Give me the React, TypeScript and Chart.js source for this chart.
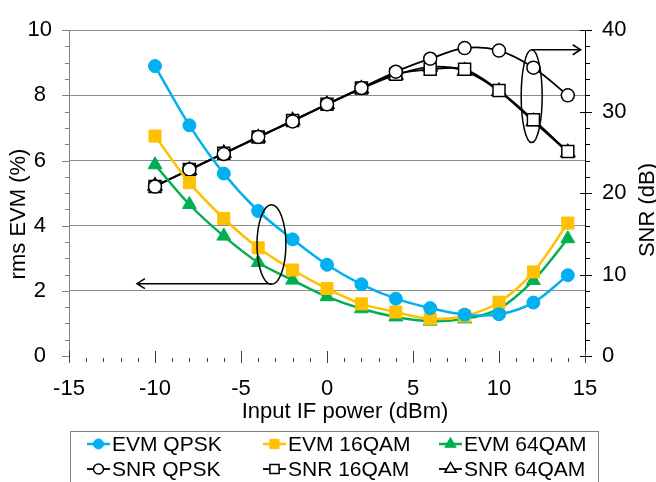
import React, { useEffect, useRef } from 'react';
import { Chart, registerables } from 'chart.js';
import { drawPoint } from 'chart.js/helpers';

Chart.register(...registerables);

// ---------- data ----------
const INPUT_POWER = [-10, -8, -6, -4, -2, 0, 2, 4, 6, 8, 10, 12, 14];

const EVM_QPSK = [8.9, 7.08, 5.6, 4.45, 3.58, 2.8, 2.2, 1.76, 1.47, 1.27, 1.28, 1.64, 2.48];
const EVM_16QAM = [6.75, 5.32, 4.22, 3.32, 2.64, 2.07, 1.6, 1.35, 1.14, 1.23, 1.65, 2.58, 4.08];
const EVM_64QAM = [5.87, 4.65, 3.68, 2.87, 2.33, 1.82, 1.45, 1.2, 1.07, 1.14, 1.45, 2.32, 3.6];

const SNR_QPSK = [20.8, 22.9, 24.8, 26.9, 28.8, 30.9, 32.9, 34.9, 36.5, 37.8, 37.5, 35.4, 32.0];
const SNR_16QAM = [20.8, 22.9, 24.9, 26.9, 28.9, 30.9, 32.9, 34.6, 35.2, 35.2, 32.6, 29.0, 25.1];
const SNR_64QAM = [20.9, 22.8, 24.9, 26.8, 28.9, 30.9, 32.8, 34.5, 35.5, 35.0, 32.5, 28.8, 25.0];

const X_MIN = -15;
const X_MAX = 15;
const X_STEP = 5;
const EVM_MIN = 0;
const EVM_MAX = 10;
const EVM_STEP = 2;
const SNR_MIN = 0;
const SNR_MAX = 40;
const SNR_STEP = 10;

const X_TITLE = 'Input IF power (dBm)';
const Y_TITLE = 'rms EVM (%)';
const Y2_TITLE = 'SNR (dB)';

// annotation (ellipse + arrow) anchors in data units
const SNR_ELLIPSE = { x: 11.9, y: 31.9, rx: 0.61, ry: 5.7 };
const SNR_ARROW = { x0: 11.9, x1: 14.75, y: 37.6 };
const EVM_ELLIPSE = { x: -3.23, y: 3.42, rx: 0.84, ry: 1.22 };
const EVM_ARROW = { x0: -3.23, x1: -11.05, y: 2.22 };

const FONT = '"Liberation Sans", Arial, sans-serif';

const pts = (ys: number[]) => INPUT_POWER.map((x, i) => ({ x, y: ys[i] }));

function drawArrow(ctx: CanvasRenderingContext2D, x0: number, x1: number, y: number) {
  const dir = x1 > x0 ? 1 : -1;
  ctx.beginPath();
  ctx.moveTo(x0, y);
  ctx.lineTo(x1, y);
  ctx.moveTo(x1 - dir * 8, y - 5);
  ctx.lineTo(x1, y);
  ctx.lineTo(x1 - dir * 8, y + 5);
  ctx.stroke();
}

const decorPlugin = {
  id: 'decor',
  afterDatasetsDraw(chart: any) {
    const ctx: CanvasRenderingContext2D = chart.ctx;
    const xs = chart.scales.x;
    const yl = chart.scales.y;
    const yr = chart.scales.y2;
    ctx.save();
    ctx.strokeStyle = '#000';
    ctx.lineWidth = 1.5;
    // right ellipse + arrow
    ctx.beginPath();
    ctx.ellipse(
      xs.getPixelForValue(SNR_ELLIPSE.x),
      yr.getPixelForValue(SNR_ELLIPSE.y),
      Math.abs(xs.getPixelForValue(SNR_ELLIPSE.x + SNR_ELLIPSE.rx) - xs.getPixelForValue(SNR_ELLIPSE.x)),
      Math.abs(yr.getPixelForValue(SNR_ELLIPSE.y + SNR_ELLIPSE.ry) - yr.getPixelForValue(SNR_ELLIPSE.y)),
      0, 0, Math.PI * 2
    );
    ctx.stroke();
    drawArrow(ctx, xs.getPixelForValue(SNR_ARROW.x0), xs.getPixelForValue(SNR_ARROW.x1), yr.getPixelForValue(SNR_ARROW.y));
    // left ellipse + arrow
    ctx.beginPath();
    ctx.ellipse(
      xs.getPixelForValue(EVM_ELLIPSE.x),
      yl.getPixelForValue(EVM_ELLIPSE.y),
      Math.abs(xs.getPixelForValue(EVM_ELLIPSE.x + EVM_ELLIPSE.rx) - xs.getPixelForValue(EVM_ELLIPSE.x)),
      Math.abs(yl.getPixelForValue(EVM_ELLIPSE.y + EVM_ELLIPSE.ry) - yl.getPixelForValue(EVM_ELLIPSE.y)),
      0, 0, Math.PI * 2
    );
    ctx.stroke();
    drawArrow(ctx, xs.getPixelForValue(EVM_ARROW.x0), xs.getPixelForValue(EVM_ARROW.x1), yl.getPixelForValue(EVM_ARROW.y));
    ctx.restore();
  },
  afterDraw(chart: any) {
    const ctx: CanvasRenderingContext2D = chart.ctx;
    const xs = chart.scales.x;
    const yl = chart.scales.y;
    const yr = chart.scales.y2;
    const area = chart.chartArea;
    ctx.save();
    ctx.lineWidth = 1;

    // left axis tick marks (major every 2, minor every 0.5)
    ctx.strokeStyle = '#808080';
    for (let k = 0; k <= 20; k++) {
      const v = k * 0.5;
      const y = Math.round(yl.getPixelForValue(v)) + 0.5;
      const major = k % 4 === 0;
      ctx.beginPath();
      ctx.moveTo(area.left - (major ? 7 : 4), y);
      ctx.lineTo(area.left, y);
      ctx.stroke();
    }
    // right axis tick marks (major every 10, minor every 2)
    ctx.strokeStyle = '#000';
    for (let k = 0; k <= 20; k++) {
      const v = k * 2;
      const y = Math.round(yr.getPixelForValue(v)) + 0.5;
      const major = k % 5 === 0;
      ctx.beginPath();
      ctx.moveTo(area.right - (major ? 5 : 0), y);
      ctx.lineTo(area.right + (major ? 7 : 5), y);
      ctx.stroke();
    }
    // x axis tick marks (major every 5, minor every 1)
    ctx.strokeStyle = '#404040';
    for (let v = X_MIN; v <= X_MAX; v++) {
      const x = Math.round(xs.getPixelForValue(v)) + 0.5;
      const major = (v - X_MIN) % 5 === 0;
      ctx.beginPath();
      if (major) {
        ctx.moveTo(x, area.bottom - 5);
        ctx.lineTo(x, area.bottom + 7);
      } else {
        ctx.moveTo(x, area.bottom + 2);
        ctx.lineTo(x, area.bottom + 6);
      }
      ctx.stroke();
    }

    // axis titles
    ctx.fillStyle = '#000';
    ctx.font = `22px ${FONT}`;
    ctx.textAlign = 'center';
    ctx.textBaseline = 'middle';
    ctx.fillText(X_TITLE, 345, 412);
    ctx.save();
    ctx.translate(19, 214);
    ctx.rotate(-Math.PI / 2);
    ctx.fillText(Y_TITLE, 0, 0);
    ctx.restore();
    ctx.save();
    ctx.translate(648, 210);
    ctx.rotate(-Math.PI / 2);
    ctx.fillText(Y2_TITLE, 0, 0);
    ctx.restore();

    // legend
    ctx.strokeStyle = '#808080';
    ctx.lineWidth = 1;
    ctx.strokeRect(70.5, 431.5, 528, 70);
    const colX = [87, 263, 439];
    const rowY = [444, 469];
    ctx.font = `21px ${FONT}`;
    ctx.textAlign = 'left';
    ctx.textBaseline = 'middle';
    chart.data.datasets.forEach((ds: any, i: number) => {
      const cx = colX[i % 3];
      const cy = rowY[Math.floor(i / 3)];
      ctx.strokeStyle = ds.borderColor;
      ctx.lineWidth = ds.borderWidth;
      ctx.beginPath();
      ctx.moveTo(cx, cy);
      ctx.lineTo(cx + 23, cy);
      ctx.stroke();
      ctx.fillStyle = ds.pointBackgroundColor;
      ctx.strokeStyle = ds.pointBorderColor;
      ctx.lineWidth = ds.pointBorderWidth;
      drawPoint(ctx, {
        pointStyle: ds.pointStyle,
        radius: ds.legendRadius,
        borderWidth: ds.pointBorderWidth,
        rotation: 0,
      } as any, cx + 11.5, cy);
      ctx.fillStyle = '#000';
      ctx.fillText(ds.label, cx + 25, cy + 1);
    });
    ctx.restore();
  },
};

function evmDataset(label: string, values: number[], color: string, style: string, radius: number, legendRadius: number) {
  return {
    label,
    data: pts(values),
    yAxisID: 'y',
    borderColor: color,
    backgroundColor: color,
    pointBackgroundColor: color,
    pointBorderColor: color,
    pointBorderWidth: 1,
    pointStyle: style,
    pointRadius: radius,
    legendRadius,
    borderWidth: 2.5,
    tension: 0.35,
  };
}

function snrDataset(label: string, values: number[], style: string, radius: number, legendRadius: number) {
  return {
    label,
    data: pts(values),
    yAxisID: 'y2',
    borderColor: '#000',
    backgroundColor: '#fff',
    pointBackgroundColor: '#fff',
    pointBorderColor: '#000',
    pointBorderWidth: 1.5,
    pointStyle: style,
    pointRadius: radius,
    legendRadius,
    borderWidth: 1.8,
    tension: 0.35,
  };
}

export default function App() {
  const ref = useRef<HTMLCanvasElement>(null);

  useEffect(() => {
    if (!ref.current) return;
    const tickFont = { family: FONT, size: 22 };
    const chart = new Chart(ref.current, {
      type: 'line',
      data: {
        datasets: [
          evmDataset('EVM QPSK', EVM_QPSK, '#00B0F0', 'circle', 6.5, 5),
          evmDataset('EVM 16QAM', EVM_16QAM, '#FFC000', 'rect', 8.5, 6.5),
          evmDataset('EVM 64QAM', EVM_64QAM, '#00B050', 'triangle', 8, 6.5),
          snrDataset('SNR QPSK', SNR_QPSK, 'circle', 6.5, 5),
          snrDataset('SNR 16QAM', SNR_16QAM, 'rect', 8.5, 6.5),
          snrDataset('SNR 64QAM', SNR_64QAM, 'triangle', 8, 6.5),
        ] as any,
      },
      options: {
        responsive: false,
        animation: false,
        devicePixelRatio: 1,
        layout: { padding: { top: 22, left: 0, right: 0, bottom: 0 }, autoPadding: false },
        plugins: {
          legend: { display: false },
          tooltip: { enabled: false },
          title: { display: false },
        },
        scales: {
          x: {
            type: 'linear',
            position: 'bottom',
            min: X_MIN,
            max: X_MAX,
            afterFit: (s: any) => { s.height = 126; },
            ticks: { stepSize: X_STEP, font: tickFont, color: '#000', padding: 20, maxRotation: 0, autoSkip: false },
            grid: { display: false, drawTicks: false },
            border: { display: false },
          },
          y: {
            type: 'linear',
            position: 'left',
            min: EVM_MIN,
            max: EVM_MAX,
            afterFit: (s: any) => { s.width = 69; },
            ticks: { stepSize: EVM_STEP, font: tickFont, color: '#000', padding: 17, crossAlign: 'center' },
            grid: {
              drawTicks: false,
              color: (c: any) => (c.tick && c.tick.value === 0 ? 'rgba(0,0,0,0)' : '#8c8c8c'),
              lineWidth: 1,
            },
            border: { display: true, color: '#808080', width: 1 },
          },
          y2: {
            type: 'linear',
            position: 'right',
            min: SNR_MIN,
            max: SNR_MAX,
            afterFit: (s: any) => { s.width = 71; },
            ticks: { stepSize: SNR_STEP, font: tickFont, color: '#000', padding: 17, crossAlign: 'near' },
            grid: { display: false, drawOnChartArea: false, drawTicks: false },
            border: { display: true, color: '#000', width: 1 },
          },
        },
      } as any,
      plugins: [decorPlugin],
    });
    return () => chart.destroy();
  }, []);

  return (
    <div style={{ position: 'fixed', left: 0, top: 0, width: 656, height: 482, background: '#fff', overflow: 'hidden' }}>
      <canvas ref={ref} width={656} height={482} style={{ display: 'block', width: 656, height: 482 }} />
    </div>
  );
}
